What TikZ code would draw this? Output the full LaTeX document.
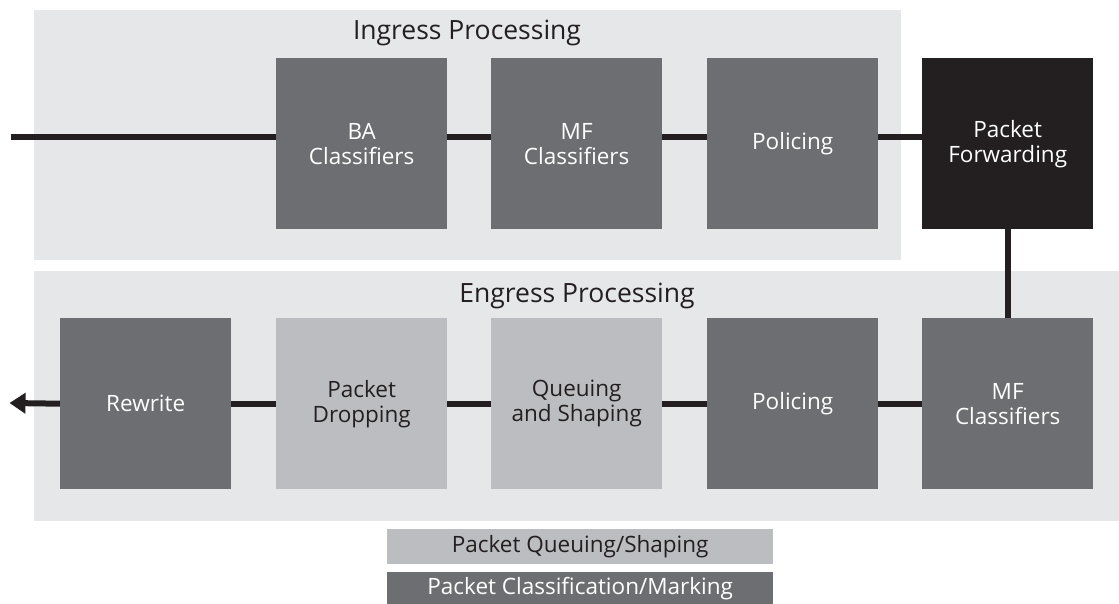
\documentclass[tikz,border=0pt]{standalone}
\usepackage{fontspec}
\setmainfont{Open Sans}
\usetikzlibrary{arrows.meta}
\definecolor{panelbg}{HTML}{E6E7E8}
\definecolor{darkbox}{HTML}{6D6E71}
\definecolor{lightbox}{HTML}{BCBDC0}
\definecolor{blackbox}{HTML}{231F20}
\definecolor{txtdark}{HTML}{231F20}
\tikzset{
  panel/.style={fill=panelbg, draw=none},
  stage/.style={draw=none, minimum width=171pt, minimum height=171pt, inner sep=0pt,
    anchor=north west, align=center, font=\fontsize{22.5}{25}\selectfont},
  darkstage/.style={stage, fill=darkbox, text=white},
  lightstage/.style={stage, fill=lightbox, text=txtdark},
  blackstage/.style={stage, fill=blackbox, text=white},
  flow/.style={line width=6pt, draw=blackbox},
  title/.style={font=\fontsize{26.5}{30}\selectfont, text=txtdark, anchor=base},
  legend/.style={draw=none, minimum width=386pt, minimum height=35pt, inner sep=0pt,
    anchor=north west, font=\fontsize{22.5}{25}\selectfont}
}
\begin{document}
\begin{tikzpicture}[x=1pt,y=-1pt]
\useasboundingbox (0,0) rectangle (1119,604);
% panels
\fill[panel] (34,10) rectangle (901,260);
\fill[panel] (34,271) rectangle (1119,521);
\node[title] (ingt) at (467,40) {Ingress Processing};
\node[title] (egt) at (577,302) {Engress Processing};
% ingress
\node[darkstage] (ba) at (276,58) {BA\\Classifiers};
\node[darkstage] (mfa) at (491,58) {MF\\Classifiers};
\node[darkstage] (pola) at (707,58) {Policing};
\node[blackstage] (pf) at (922,58) {Packet\\Forwarding};
% egress
\node[darkstage] (rw) at (60,318) {Rewrite};
\node[lightstage] (drop) at (276,318) {Packet\\Dropping};
\node[lightstage] (queue) at (491,318) {Queuing\\and Shaping};
\node[darkstage] (polb) at (707,318) {Policing};
\node[darkstage] (mfb) at (922,318) {MF\\Classifiers};
% flow
\coordinate (in) at (11,137.5);
\coordinate (out) at (10,403);
\draw[flow] (in) -- (in -| ba.west);
\draw[flow] (ba.east |- in) -- (in -| mfa.west);
\draw[flow] (mfa.east |- in) -- (in -| pola.west);
\draw[flow] (pola.east |- in) -- (in -| pf.west);
\draw[flow] (pf.south) -- (mfb.north);
\draw[flow] (mfb.west) -- (polb.east);
\draw[flow] (polb.west) -- (queue.east);
\draw[flow] (queue.west) -- (drop.east);
\draw[flow] (drop.west) -- (rw.east);
\draw[flow, -{Triangle[length=16pt,width=20pt]}, shorten >=-0.5pt] (rw.west) -- (out);
% legend
\node[legend, fill=lightbox, text=txtdark] (lq) at (387,529) {Packet Queuing/Shaping};
\node[legend, fill=darkbox, text=white, minimum height=32pt] (lc) at (387,572) {Packet Classification/Marking};
\end{tikzpicture}
\end{document}
